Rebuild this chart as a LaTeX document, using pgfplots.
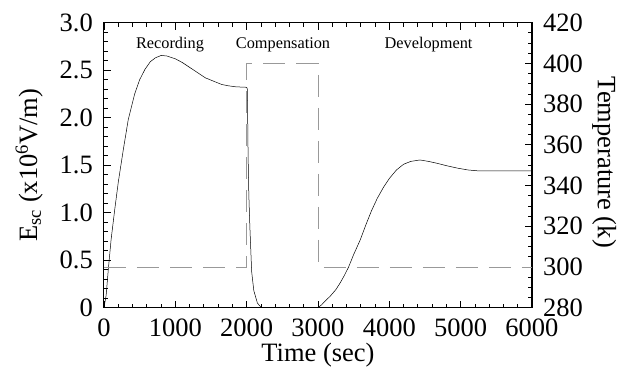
\documentclass[border=0pt]{standalone}
\usepackage{pgfplots}
\pgfplotsset{compat=1.18}
\usepackage{fontspec}
\setmainfont{Liberation Serif}
\newcommand{\bigf}{\fontsize{26.5}{31}\selectfont}
\newcommand{\annf}{\fontsize{16.3}{19}\selectfont}
\begin{document}
\begin{tikzpicture}
\path[use as bounding box] (-104pt,-62.3pt) rectangle (529pt,307.7pt);
\begin{axis}[
  at={(0pt,0pt)}, anchor=south west,
  scale only axis, width=428pt, height=285pt,
  xmin=0, xmax=6000, ymin=0, ymax=3,
  xtick={0,1000,...,6000}, ytick={0,0.5,...,3.0},
  yticklabels={0,0.5,1.0,1.5,2.0,2.5,3.0},
  minor x tick num=4, minor y tick num=4,
  tick align=inside, xtick pos=both, ytick pos=left,
  major tick length=7pt, minor tick length=4pt,
  every tick/.style={black, line width=0.8pt},
  axis line style={line width=1pt},
  /pgf/number format/assume math mode=true,
  /pgf/number format/1000 sep={},
  tick label style={font=\bigf},
  yticklabel style={inner sep=0pt, xshift=-11pt},
  xticklabel style={inner sep=0pt, yshift=-10.5pt},
  scaled ticks=false,
  xlabel={Time (sec)},
  xlabel style={font=\bigf, at={(axis description cs:0.5,-0.1875)}, anchor=base},
  ylabel={E\textsubscript{sc} (x10\textsuperscript{6}V/m)},
  ylabel style={font=\bigf, at={(axis description cs:-0.1565,0.5)}, anchor=base, rotate=0},
  clip=false,
]
\addplot[black, line width=0.5pt] coordinates {
(0,0) (30,0.13) (60,0.40) (100,0.72) (150,1.03) (200,1.32) (270,1.66) (340,1.98)
(430,2.25) (500,2.40) (575,2.51) (650,2.59) (720,2.63) (800,2.655) (880,2.65)
(1000,2.62) (1100,2.58) (1200,2.53) (1300,2.48) (1420,2.42) (1550,2.38) (1650,2.35)
(1750,2.335) (1850,2.325) (2000,2.32)
(2010,2.30) (2020,1.6) (2030,1.2) (2045,0.85) (2070,0.38) (2100,0.18) (2150,0.05)
(2200,0.005) (2250,0) (3000,0)
(3050,0.03) (3100,0.07) (3170,0.12) (3250,0.19) (3310,0.26) (3370,0.34) (3430,0.43)
(3500,0.56) (3590,0.71) (3670,0.87) (3750,1.02) (3830,1.15) (3920,1.27) (4000,1.36)
(4100,1.45) (4200,1.51) (4300,1.54) (4430,1.555) (4550,1.54) (4670,1.52) (4800,1.495)
(4950,1.47) (5100,1.45) (5250,1.44) (5500,1.44) (6000,1.44)
};
\node[font=\annf, anchor=base] at (axis cs:925,2.724) {Recording};
\node[font=\annf, anchor=base] at (axis cs:2510,2.724) {Compensation};
\node[font=\annf, anchor=base] at (axis cs:4550,2.724) {Development};
\end{axis}
\begin{axis}[
  at={(0pt,0pt)}, anchor=south west,
  scale only axis, width=428pt, height=285pt,
  xmin=0, xmax=6000, ymin=280, ymax=420,
  xtick=\empty, ytick={280,300,...,420},
  minor y tick num=3,
  tick align=inside, ytick pos=right,
  major tick length=7pt, minor tick length=4pt,
  every tick/.style={black, line width=0.8pt},
  axis line style={line width=1pt},
  /pgf/number format/assume math mode=true,
  tick label style={font=\bigf},
  yticklabel style={inner sep=0pt, xshift=11pt},
  clip=false,
]
\addplot[gray!80, line width=0.8pt, dash pattern=on 22pt off 11pt] coordinates {
(0,300) (2000,300) (2000,400) (3000,400) (3000,300) (6000,300)
};
\node[font=\bigf, rotate=-90, anchor=base] at (axis description cs:1.154,0.51) {Temperature (k)};
\end{axis}
\end{tikzpicture}
\end{document}
